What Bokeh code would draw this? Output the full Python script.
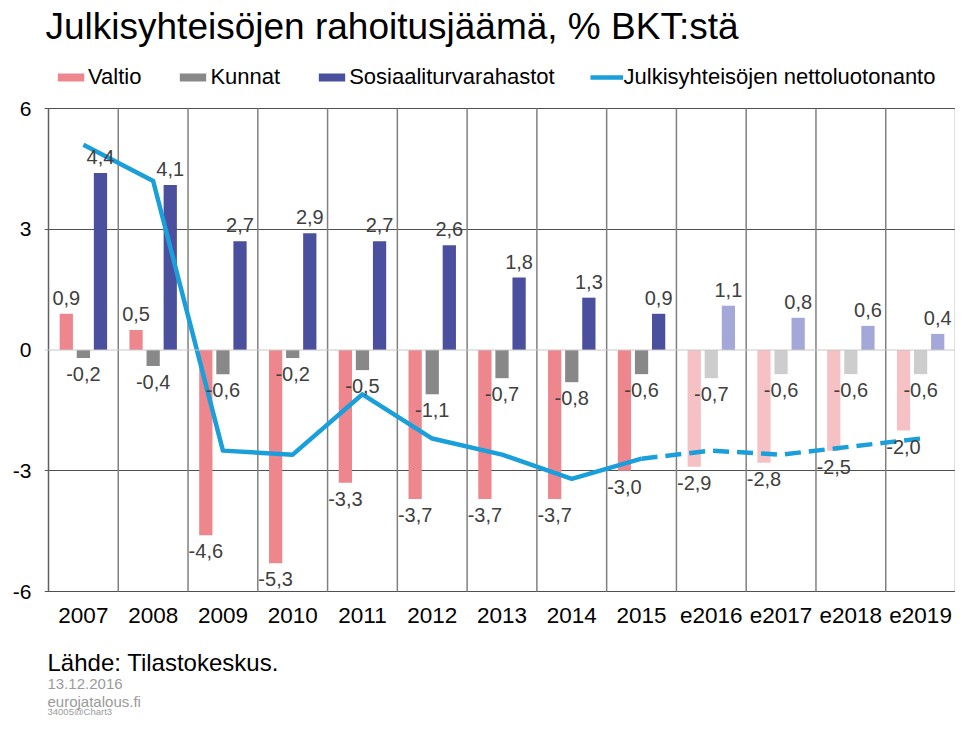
from bokeh.plotting import figure
from bokeh.models import (ColumnDataSource, FixedTicker, LabelSet, Label, Legend,
                          LegendItem, Span, Range1d)
from bokeh.core.properties import value, field
from bokeh.embed import file_html
from bokeh.resources import INLINE

# ---------------- data ----------------
cats = ["2007", "2008", "2009", "2010", "2011", "2012", "2013", "2014", "2015",
        "e2016", "e2017", "e2018", "e2019"]
valtio = [0.9, 0.5, -4.6, -5.3, -3.3, -3.7, -3.7, -3.7, -3.0, -2.9, -2.8, -2.5, -2.0]
kunnat = [-0.2, -0.4, -0.6, -0.2, -0.5, -1.1, -0.7, -0.8, -0.6, -0.7, -0.6, -0.6, -0.6]
sosiaali = [4.4, 4.1, 2.7, 2.9, 2.7, 2.6, 1.8, 1.3, 0.9, 1.1, 0.8, 0.6, 0.4]
netto = [5.1, 4.2, -2.5, -2.6, -1.1, -2.2, -2.6, -3.2, -2.7, -2.5, -2.6, -2.4, -2.2]
y_ticks = [-6, -3, 0, 3, 6]

title_text = "Julkisyhteisöjen rahoitusjäämä, % BKT:stä"
legend_labels = ["Valtio", "Kunnat", "Sosiaaliturvarahastot",
                 "Julkisyhteisöjen nettoluotonanto"]
source_text = "Lähde: Tilastokeskus."
date_text = "13.12.2016"
site_text = "eurojatalous.fi"
code_text = "34005@Chart3"

# ---------------- layout (pixels) ----------------
W, H = 955, 715
BL = 44                   # frame: canvas x 44..955, canvas y 0..715
AREA_LEFT = 48            # canvas x of the plot area's left edge
AREA_TOP = 108            # canvas y of the value 6
AREA_BOTTOM = 591         # canvas y of the value -6
FONT = "Liberation Sans"
n = len(cats)
YMIN, YMAX = -6, 6
px_x = (W - AREA_LEFT) / n
px_y = (AREA_BOTTOM - AREA_TOP) / (YMAX - YMIN)
x_start = -(AREA_LEFT - BL) / px_x
y_end = YMAX + AREA_TOP / px_y
y_start = YMIN - (H - AREA_BOTTOM) / px_y

p = figure(width=W, height=H, output_backend="svg", toolbar_location=None,
           x_range=Range1d(x_start, n), y_range=Range1d(y_start, y_end),
           x_axis_location=None,
           min_border_left=BL, min_border_right=0, min_border_top=0,
           min_border_bottom=0)
p.above = []
p.background_fill_color = "white"
p.border_fill_color = "white"
p.outline_line_color = None

# grid: horizontal lines through the ticks; vertical lines between categories
p.xgrid.visible = False
p.ygrid.ticker = FixedTicker(ticks=[t for t in y_ticks if t != 0])
p.ygrid.grid_line_color = "#505050"
p.ygrid.grid_line_width = 1
p.add_layout(Span(location=0, dimension="width", line_color="#c8c8c8", line_width=1))
bounds = list(range(n + 1))
p.segment(x0=bounds, x1=bounds, y0=[YMIN] * len(bounds), y1=[YMAX] * len(bounds),
          line_color=["#606060"] + ["#808080"] * n, line_width=1.5)

# y axis
p.yaxis.ticker = FixedTicker(ticks=y_ticks)
p.yaxis.major_label_overrides = {t: str(t) for t in y_ticks}
ax = p.yaxis[0]
ax.axis_line_color = None
ax.major_tick_line_color = None
ax.minor_tick_line_color = None
ax.major_tick_out = 0
ax.major_tick_in = 0
ax.minor_tick_out = 0
ax.major_label_text_font = FONT
ax.major_label_text_color = "black"
ax.major_label_text_font_size = "21px"
ax.major_label_standoff = 13

# category labels under the plot area
xc = [i + 0.5 for i in range(n)]
cat_src = ColumnDataSource(dict(x=xc, y=[YMIN] * n, text=cats))
p.add_layout(LabelSet(x="x", y="y", text="text", source=cat_src, y_offset=-16,
                      text_baseline="top", text_align="center",
                      text_font=value(FONT), text_font_size="22.5px",
                      text_color="black"))


def fmt(v):
    return f"{v:.1f}".replace(".", ",")


series = [
    (valtio, -0.245, "#ee868d", "#f5c1c4"),
    (kunnat, 0.0, "#888888", "#cdcdcd"),
    (sosiaali, 0.245, "#4a4f9e", "#a4a8d8"),
]
est = [c.startswith("e") for c in cats]

bar_renderers = []
for vals, off, dark, light in series:
    src = ColumnDataSource(dict(
        x=[c + off for c in xc],
        top=vals,
        color=[light if e else dark for e in est],
        label=[fmt(v) for v in vals],
        off=[9 if v >= 0 else -9 for v in vals],
        base=["bottom" if v >= 0 else "top" for v in vals],
    ))
    r = p.vbar(x="x", top="top", bottom=0, width=0.19, fill_color="color",
               line_color=None, source=src)
    bar_renderers.append(r)
    p.add_layout(LabelSet(x="x", y="top", text="label", source=src,
                          y_offset=field("off"), text_baseline=field("base"),
                          text_align="center", text_font=value(FONT),
                          text_font_size="20px", text_color="#404040"))

# line
n_act = sum(1 for e in est if not e)
line_col = "#1a9fdb"
solid = p.line(x=xc[:n_act], y=netto[:n_act], line_color=line_col, line_width=4.5,
               line_join="round")
p.line(x=xc[n_act - 1:], y=netto[n_act - 1:], line_color=line_col, line_width=4.5,
       line_dash="16 8")

# legend (inside the frame, above the plot area)
items = [LegendItem(label=lab, renderers=[r], index=0)
         for lab, r in zip(legend_labels[:3], bar_renderers)]
items.append(LegendItem(label=legend_labels[3], renderers=[solid]))
legend = Legend(items=items, orientation="horizontal", location=(10, H - 90),
                glyph_width=33, glyph_height=10, label_standoff=1, spacing=35,
                padding=0, margin=0, border_line_color=None,
                background_fill_alpha=0, label_text_font=FONT,
                label_text_font_size="22px", label_text_color="black")
p.add_layout(legend)


# free texts: frame-relative screen units, y counted up from the canvas bottom
def txt(text, px, top_py, size, color):
    p.add_layout(Label(x=px - BL, y=H - top_py, x_units="screen", y_units="screen",
                       text=text, text_font=FONT, text_font_size=size,
                       text_color=color, text_baseline="top"))


txt(title_text, 45, 5, "37px", "black")
txt(source_text, 47, 648, "24px", "black")
txt(date_text, 47, 678, "15px", "#9a9a9a")
txt(site_text, 47, 692, "15px", "#9a9a9a")
txt(code_text, 47, 705, "9.5px", "#9a9a9a")

open("out.html", "w").write(file_html(p, INLINE))
